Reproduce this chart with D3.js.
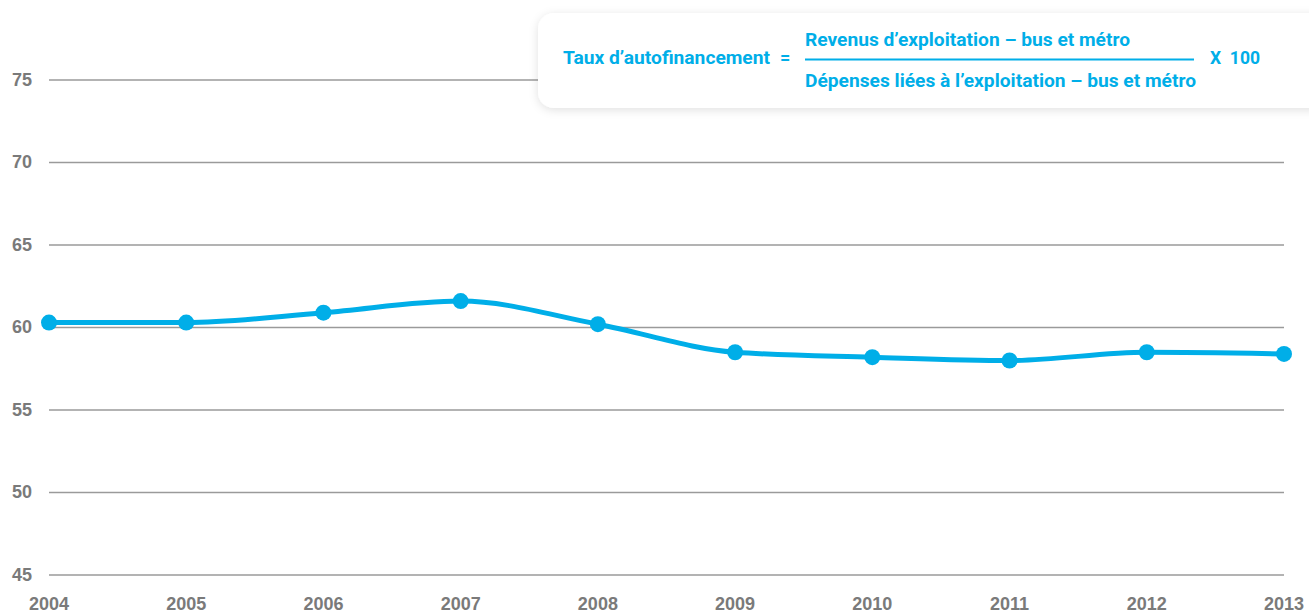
<!DOCTYPE html>
<html>
<head>
<meta charset="utf-8">
<script src="https://cdn.jsdelivr.net/npm/d3@7"></script>
<style>
  body { margin: 0; background: #fff; }
  svg { display: block; }
</style>
</head>
<body>
<div id="chart"></div>
<script>
// data
var years = [2004, 2005, 2006, 2007, 2008, 2009, 2010, 2011, 2012, 2013];
var ratio = [60.3, 60.3, 60.9, 61.6, 60.2, 58.5, 58.2, 58.0, 58.5, 58.4];
var yTicks = [45, 50, 55, 60, 65, 70, 75];

var formulaLeft = "Taux d\u2019autofinancement";
var formulaEq = "=";
var formulaTop = "Revenus d\u2019exploitation \u2013 bus et métro";
var formulaBottom = "Dépenses liées à l\u2019exploitation \u2013 bus et métro";
var formulaRight = "X  100";

var W = 1309, H = 613;
var blue = "#00aee8", grey = "#7a7a7a";

var svg = d3.select("#chart").append("svg")
    .attr("width", W)
    .attr("height", H);

var x = d3.scaleLinear().domain([2004, 2013]).range([49, 1284]);
var y = d3.scaleLinear().domain([45, 75]).range([575, 80]);

// gridlines + y labels
var grid = svg.append("g");
grid.selectAll("line")
    .data(yTicks)
    .enter().append("line")
    .attr("x1", 49).attr("x2", 1284)
    .attr("y1", function (d) { return y(d); })
    .attr("y2", function (d) { return y(d); })
    .attr("stroke", "#9a9a9a")
    .attr("stroke-width", 1.5);

grid.selectAll("text")
    .data(yTicks)
    .enter().append("text")
    .attr("x", 12)
    .attr("y", function (d) { return y(d); })
    .attr("dy", "0.33em")
    .attr("font-family", "Liberation Sans, Arial, sans-serif")
    .attr("font-weight", "bold")
    .attr("font-size", 18)
    .attr("fill", grey)
    .text(function (d) { return d; });

// x axis labels
svg.append("g").selectAll("text")
    .data(years)
    .enter().append("text")
    .attr("x", function (d) { return x(d); })
    .attr("y", 610)
    .attr("text-anchor", "middle")
    .attr("font-family", "Liberation Sans, Arial, sans-serif")
    .attr("font-weight", "bold")
    .attr("font-size", 18)
    .attr("fill", grey)
    .text(function (d) { return d; });

// the line
var pts = years.map(function (d, i) { return [d, ratio[i]]; });
svg.append("path")
    .datum(pts)
    .attr("fill", "none")
    .attr("stroke", blue)
    .attr("stroke-width", 5)
    .attr("stroke-linejoin", "round")
    .attr("d", d3.line()
        .curve(d3.curveMonotoneX)
        .x(function (d) { return x(d[0]); })
        .y(function (d) { return y(d[1]); }));

svg.append("g").selectAll("circle")
    .data(pts)
    .enter().append("circle")
    .attr("cx", function (d) { return x(d[0]); })
    .attr("cy", function (d) { return y(d[1]); })
    .attr("r", 8)
    .attr("fill", blue);

// formula box
var defs = svg.append("defs");
var f = defs.append("filter").attr("id", "shadow")
    .attr("x", "-10%").attr("y", "-30%").attr("width", "120%").attr("height", "160%");
f.append("feDropShadow")
    .attr("dx", 0).attr("dy", 2).attr("stdDeviation", 5)
    .attr("flood-color", "#000").attr("flood-opacity", 0.12);

var box = svg.append("g");
box.append("rect")
    .attr("x", 538).attr("y", 13)
    .attr("width", 790).attr("height", 95)
    .attr("rx", 16)
    .attr("fill", "#fff")
    .attr("filter", "url(#shadow)");

function txt(s, xx, yy, len) {
    var t = box.append("text")
        .attr("x", xx).attr("y", yy)
        .attr("font-family", "Roboto, sans-serif")
        .attr("font-weight", "bold")
        .attr("font-size", 18)
        .attr("fill", blue)
        .style("white-space", "pre")
        .text(s);
    if (len) t.attr("textLength", len).attr("lengthAdjust", "spacingAndGlyphs");
    return t;
}
txt(formulaLeft, 563, 64, 207);
txt(formulaEq, 780, 64);
txt(formulaTop, 805, 46, 325);
txt(formulaBottom, 805, 87, 391);
txt(formulaRight, 1210, 64, 50);
box.append("line")
    .attr("x1", 805).attr("x2", 1194)
    .attr("y1", 59.5).attr("y2", 59.5)
    .attr("stroke", blue).attr("stroke-width", 2);
</script>
</body>
</html>
